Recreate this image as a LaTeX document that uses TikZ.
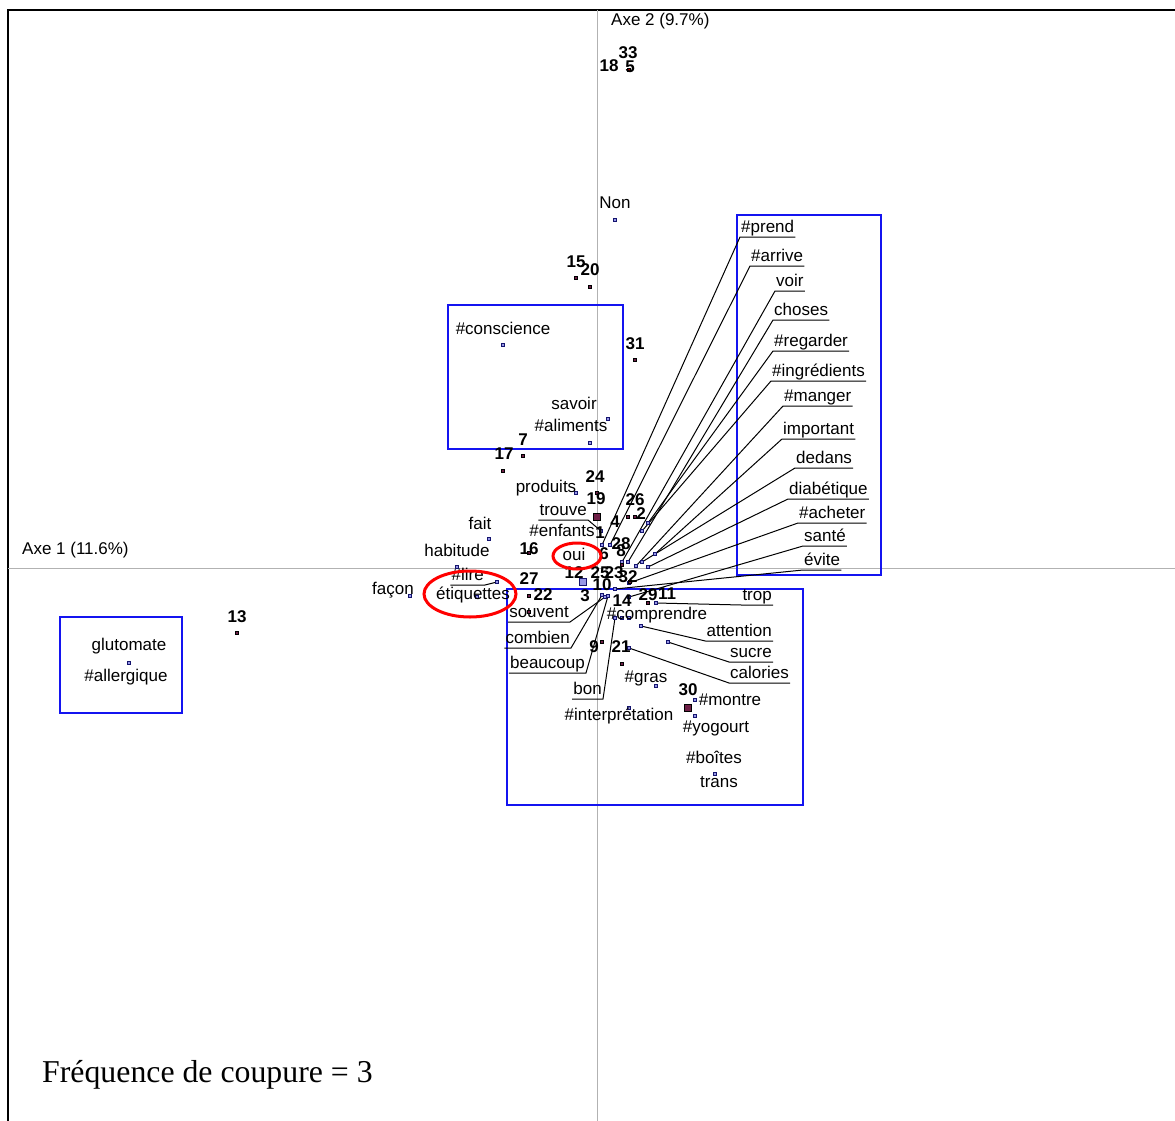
\documentclass[tikz,border=0pt]{standalone}
\usepackage{fontspec}
\setmainfont{Liberation Serif}
\newfontfamily\arialf{Liberation Sans}
\definecolor{navyc}{RGB}{20,20,110}
\definecolor{wfill}{RGB}{150,150,230}
\definecolor{nfill}{RGB}{110,30,70}
\definecolor{boxblue}{RGB}{20,20,240}
\begin{document}
\begin{tikzpicture}[x=1pt,y=-1pt,
 lbl/.style={font=\arialf\fontsize{17}{19}\selectfont, inner sep=0pt, yshift=-1pt},
 num/.style={font=\arialf\bfseries\fontsize{17}{19}\selectfont, inner sep=0pt, yshift=-1pt},
 ull/.style={font=\arialf\fontsize{17}{19}\selectfont, inner xsep=1pt, inner ysep=0pt, text depth=4pt},
 wm/.style={rectangle, draw=navyc, fill=wfill, minimum size=3.6pt, inner sep=0pt, line width=0.8pt},
 nm/.style={rectangle, draw=black, fill=nfill, minimum size=3.6pt, inner sep=0pt, line width=0.8pt},
 big/.style={minimum size=7pt},
 lead/.style={black, line width=1pt},
 bx/.style={draw=boxblue, line width=1.6pt},
 ring/.style={draw=red, line width=3pt},
 axisl/.style={draw=black!30, line width=0.8pt}]
\useasboundingbox (0,0) rectangle (1175,1121);
\fill[white] (0,0) rectangle (1175,1121);
% frame and axes
\draw[line width=1.2pt] (8,1121) -- (8,10) -- (1175,10);
\draw[axisl] (8,568) -- (1175,568);
\draw[axisl] (597,10) -- (597,1121);
\node[lbl, anchor=west] (ax1) at (22,549) {Axe 1 (11.6\%)};
\node[lbl, anchor=west] (ax2) at (611,20) {Axe 2 (9.7\%)};
% blue boxes
\draw[bx] (448,305) rectangle (623,449);
\draw[bx] (737,215) rectangle (881,575);
\draw[bx] (507,589) rectangle (803,805);
\draw[bx] (60,617) rectangle (182,713);
% leader markers (coordinates)
\coordinate (mprend) at (602,545);
\coordinate (marrive) at (610,545);
\coordinate (mvoir) at (622,562);
\coordinate (mchoses) at (628,562);
\coordinate (mregarder) at (648,523);
\coordinate (mingr) at (642,531);
\coordinate (mmanger) at (636,566);
\coordinate (mimportant) at (655,554);
\coordinate (mdedans) at (642,562);
\coordinate (mdiab) at (648,567);
\coordinate (machet) at (629,583);
\coordinate (msante) at (629,597);
\coordinate (mevite) at (615,589);
\coordinate (msouvent) at (605,597);
\coordinate (mcombien) at (602,595);
\coordinate (mbeaucoup) at (608,596);
\coordinate (mbon) at (615,618);
\coordinate (mtrop) at (656,603);
\coordinate (mattention) at (641,626);
\coordinate (msucre) at (668,642);
\coordinate (mcalories) at (629,648);
\coordinate (mlire) at (497,582);
\coordinate (mtrouve) at (601,531);
% right leader labels
\node[ull, anchor=south west] (lprend) at (740,237) {\#prend};
\node[ull, anchor=south west] (larrive) at (750,266) {\#arrive};
\node[ull, anchor=south west] (lvoir) at (775,291) {voir};
\node[ull, anchor=south west] (lchoses) at (773,320) {choses};
\node[ull, anchor=south west] (lregarder) at (773,351) {\#regarder};
\node[ull, anchor=south west] (lingr) at (771,381) {\#ingrédients};
\node[ull, anchor=south west] (lmanger) at (783,406) {\#manger};
\node[ull, anchor=south west] (limportant) at (782,439) {important};
\node[ull, anchor=south west] (ldedans) at (795,468) {dedans};
\node[ull, anchor=south west] (ldiab) at (788,499) {diabétique};
\node[ull, anchor=south west] (lachet) at (798,523) {\#acheter};
\node[ull, anchor=south west] (lsante) at (803,546) {santé};
\node[ull, anchor=south west] (levite) at (803,570) {évite};
\foreach \m/\l in {mprend/lprend, marrive/larrive, mvoir/lvoir, mchoses/lchoses,
  mregarder/lregarder, mingr/lingr, mmanger/lmanger, mimportant/limportant,
  mdedans/ldedans, mdiab/ldiab, machet/lachet, msante/lsante, mevite/levite}
  \draw[lead] (\m) -- (\l.south west) -- (\l.south east);
% lower right leader labels
\node[ull, anchor=south east] (ltrop) at (773,605) {trop};
\node[ull, anchor=south east] (lattention) at (773,641) {attention};
\node[ull, anchor=south east] (lsucre) at (773,662) {sucre};
\node[ull, anchor=south east] (lcalories) at (790,683) {calories};
\draw[lead] (mtrop) -- (ltrop.south west) -- (ltrop.south east);
\draw[lead] (mattention) -- (lattention.south west) -- (lattention.south east);
\draw[lead] (msucre) -- (lsucre.south west) -- (lsucre.south east);
\draw[lead] (mcalories) -- (lcalories.south west) -- (lcalories.south east);
% left leader labels
\node[ull, anchor=south east] (lsouvent) at (570,622) {souvent};
\node[ull, anchor=south east] (lcombien) at (571,648) {combien};
\node[ull, anchor=south east] (lbeaucoup) at (586,673) {beaucoup};
\node[ull, anchor=south east] (lbon) at (603,699) {bon};
\node[ull, anchor=south east] (ltrouve) at (588,520) {trouve};
\node[ull, anchor=south east] (llire) at (485,585) {\#lire};
\foreach \m/\l in {msouvent/lsouvent, mcombien/lcombien, mbeaucoup/lbeaucoup,
  mbon/lbon, mtrouve/ltrouve, mlire/llire}
  \draw[lead] (\m) -- (\l.south east) -- (\l.south west);
% word markers
\foreach \x/\y [count=\i] in {615/220, 503/345, 608/419, 590/443, 576/493, 489/539,
  457/567, 410/596, 497/582, 477/597, 602/545, 610/545, 622/562, 628/562, 648/523,
  642/531, 636/566, 655/554, 642/562, 648/567, 629/583, 629/597, 615/589, 605/597,
  602/595, 608/596, 615/618, 622/618, 629/618, 656/603, 641/626, 668/642, 629/648,
  656/686, 629/708, 695/700, 695/716, 715/774, 129/663, 601/531}
  \node[wm] (w\i) at (\x,\y) {};
% number markers
\foreach \x/\y [count=\i] in {576/278, 590/287, 635/360, 523/456, 503/471, 597/493,
  628/517, 635/517, 529/553, 529/596, 529/612, 602/642, 622/664, 648/603, 237/633,
  622/565, 630/582}
  \node[nm] (n\i) at (\x,\y) {};
\node[nm, fill=red!70!black] (n5m) at (629,70) {};
\node[nm, big] (bigA) at (597,517) {};
\node[nm, big] (bigB) at (688,708) {};
\node[wm, big, fill=wfill] (bigC) at (583,582) {};
% word labels
\node[lbl] (tnon) at (615,202) {Non};
\node[lbl] (tcons) at (503,327) {\#conscience};
\node[lbl] (tsavoir) at (574,402) {savoir};
\node[lbl] (talim) at (571,424) {\#aliments};
\node[lbl] (tprod) at (546,487) {produits};
\node[lbl] (tfait) at (480,522) {fait};
\node[lbl] (tenf) at (562,529) {\#enfants};
\node[lbl] (thab) at (457,549) {habitude};
\node[lbl] (toui) at (574,553) {oui};
\node[lbl] (tfacon) at (393,589) {façon};
\node[lbl] (tetiq) at (473,594) {étiquettes};
\node[lbl] (tcompr) at (657,614) {\#comprendre};
\node[lbl] (tgras) at (646,677) {\#gras};
\node[lbl] (tinterp) at (619,715) {\#interprétation};
\node[lbl] (tmontre) at (730,699) {\#montre};
\node[lbl] (tyog) at (716,727) {\#yogourt};
\node[lbl] (tboites) at (714,756) {\#boîtes};
\node[lbl] (ttrans) at (719,781) {trans};
\node[lbl] (tglut) at (129,645) {glutomate};
\node[lbl] (tallerg) at (126,676) {\#allergique};
% number labels
\foreach \t/\x/\y in {33/628/52, 18/609/65, 5/630/66, 15/576/261, 20/590/269, 31/635/343,
  7/523/439, 17/504/453, 24/595/476, 19/596/498, 26/635/499, 2/641/513, 4/615/521,
  1/600/532, 28/621/543, 8/621/550, 6/604/553, 16/529/548, 12/574/572, 25/600/572,
  23/614/572, 32/628/576, 10/602/584, 27/529/578, 22/543/594, 3/585/595, 14/622/600,
  29/648/594, 11/667/593, 9/594/646, 21/621/646, 30/688/689, 13/237/616}
  \node[num] (k\t) at (\x,\y) {\t};
% red rings
\draw[ring] (577,556) ellipse [x radius=24pt, y radius=13pt];
\draw[ring] (470,594) ellipse [x radius=46pt, y radius=23pt];
% footer
\node[font=\fontsize{31.8}{35}\selectfont, inner sep=0pt, anchor=west] (freq) at (42,1075) {Fréquence de coupure = 3};
\end{tikzpicture}
\end{document}
